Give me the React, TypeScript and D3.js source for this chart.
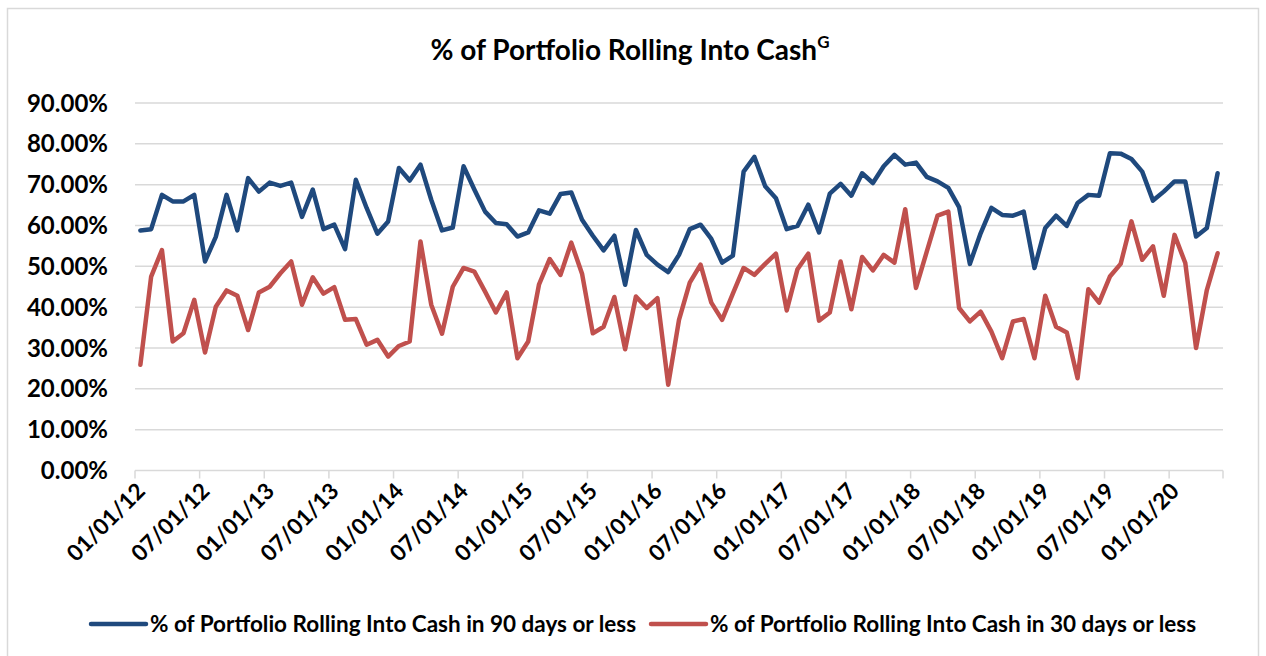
import React from 'react'
import * as d3 from 'd3'

// monthly observations, Jan 2012 .. May 2020
const months = d3.timeMonth.range(new Date(2012, 0, 1), new Date(2020, 5, 1))

const cash90 = [
  58.8, 59.1, 67.5, 65.9, 65.9, 67.5, 51.2, 57.2, 67.5, 58.8,
  71.6, 68.3, 70.5, 69.7, 70.5, 62.1, 68.8, 59.1, 60.2, 54.2,
  71.2, 64.3, 58.0, 61.0, 74.1, 71.0, 74.9, 66.3, 58.8, 59.5,
  74.5, 68.8, 63.4, 60.6, 60.3, 57.3, 58.3, 63.7, 62.9, 67.7,
  68.1, 61.4, 57.5, 53.9, 57.5, 45.5, 58.9, 52.8, 50.4, 48.6,
  52.8, 59.1, 60.2, 56.7, 50.9, 52.6, 73.2, 76.8, 69.6, 66.7,
  59.1, 59.9, 65.1, 58.3, 67.8, 70.2, 67.3, 72.8, 70.4, 74.5,
  77.3, 74.9, 75.4, 71.9, 70.8, 69.2, 64.5, 50.6, 58.1, 64.3,
  62.6, 62.4, 63.4, 49.6, 59.4, 62.4, 59.9, 65.5, 67.5, 67.3,
  77.7, 77.6, 76.3, 73.2, 66.1, 68.3, 70.8, 70.8, 57.3, 59.4,
  72.8,
]

const cash30 = [
  25.9, 47.5, 54.0, 31.6, 33.6, 41.8, 28.9, 40.1, 44.1, 42.8,
  34.4, 43.6, 45.0, 48.3, 51.2, 40.6, 47.3, 43.3, 44.9, 36.9,
  37.1, 30.8, 32.0, 27.9, 30.5, 31.6, 56.1, 40.6, 33.5, 45.0,
  49.6, 48.7, 43.8, 38.7, 43.6, 27.5, 31.6, 45.5, 51.8, 47.9,
  55.8, 48.2, 33.6, 35.2, 42.5, 29.7, 42.6, 39.8, 42.2, 21.0,
  36.9, 46.0, 50.4, 41.1, 36.9, 43.3, 49.6, 47.9, 50.6, 53.1,
  39.2, 49.3, 53.1, 36.7, 38.7, 51.2, 39.5, 52.3, 49.0, 52.8,
  50.9, 64.0, 44.7, 53.6, 62.4, 63.4, 39.8, 36.5, 38.9, 34.0,
  27.5, 36.5, 37.1, 27.5, 42.8, 35.2, 33.8, 22.6, 44.4, 41.1,
  47.5, 50.6, 61.0, 51.6, 54.9, 42.8, 57.7, 50.8, 30.0, 44.2,
  53.2,
]

const yTicks = [0, 10, 20, 30, 40, 50, 60, 70, 80, 90]
const xTickLabels = [
  '01/01/12', '07/01/12', '01/01/13', '07/01/13', '01/01/14', '07/01/14',
  '01/01/15', '07/01/15', '01/01/16', '07/01/16', '01/01/17', '07/01/17',
  '01/01/18', '07/01/18', '01/01/19', '07/01/19', '01/01/20',
]

const seriesNames = [
  '% of Portfolio Rolling Into Cash in 90 days or less',
  '% of Portfolio Rolling Into Cash in 30 days or less',
]
const colors = ['#1f497d', '#c0504d']

const font = 'Lato, "Open Sans", sans-serif'

export default function App() {
  const width = 1266
  const height = 656
  const plot = { left: 135, right: 1223, top: 103, bottom: 470.5 }

  const x = d3.scaleLinear()
    .domain([-0.5, months.length - 0.5])
    .range([plot.left, plot.right])
  const y = d3.scaleLinear().domain([0, 90]).range([plot.bottom, plot.top])

  const line = d3.line<number>()
    .x((_, i) => x(i))
    .y(d => y(d))

  const tickIdx = d3.range(0, months.length, 6)

  return (
    <svg width={width} height={height} style={{ position: 'absolute', left: 0, top: 0 }}>
      <rect x={0} y={0} width={width} height={height} fill="#fff" />
      <rect x={7.5} y={8.5} width={1251} height={660} fill="none" stroke="#d9d9d9" strokeWidth={1.5} />

      {/* Title */}
      <text x={630} y={60} textAnchor="middle" fontFamily={font} fontWeight="bold" fontSize={28} fill="#000">
        % of Portfolio Rolling Into Cash
        <tspan fontSize={17} dy={-12}>G</tspan>
      </text>

      {/* Gridlines + y labels */}
      {yTicks.map(t => (
        <g key={t}>
          <line x1={plot.left} x2={plot.right} y1={y(t)} y2={y(t)} stroke="#d9d9d9" strokeWidth={1.5} />
          <text x={108} y={y(t)} dy="0.36em" textAnchor="end" fontFamily={font} fontWeight="bold" fontSize={24} fill="#000">
            {t.toFixed(2)}%
          </text>
        </g>
      ))}

      {/* x ticks */}
      {tickIdx.concat([months.length]).map(i => (
        <line key={i} x1={x(i - 0.5)} x2={x(i - 0.5)} y1={plot.bottom} y2={plot.bottom + 8} stroke="#d9d9d9" strokeWidth={1.5} />
      ))}
      {tickIdx.map((i, k) => (
        <text key={i}
          transform={`translate(${x(i) + 6},${plot.bottom + 22}) rotate(-45)`}
          textAnchor="end" fontFamily={font} fontWeight="bold" fontSize={22.5} fill="#000">
          {xTickLabels[k]}
        </text>
      ))}

      {/* Series */}
      {[cash90, cash30].map((s, k) => (
        <path key={k} d={line(s) || ''} fill="none" stroke={colors[k]} strokeWidth={4.5} strokeLinejoin="round" strokeLinecap="round" />
      ))}

      {/* Legend */}
      {seriesNames.map((name, k) => {
        const lx = k === 0 ? 91 : 651
        return (
          <g key={k}>
            <line x1={lx} x2={lx + 55} y1={624} y2={624} stroke={colors[k]} strokeWidth={4.5} strokeLinecap="round" />
            <text x={lx + 59} y={624} dy="0.36em" fontFamily={font} fontWeight="bold" fontSize={22.5} fill="#000">{name}</text>
          </g>
        )
      })}
    </svg>
  )
}
